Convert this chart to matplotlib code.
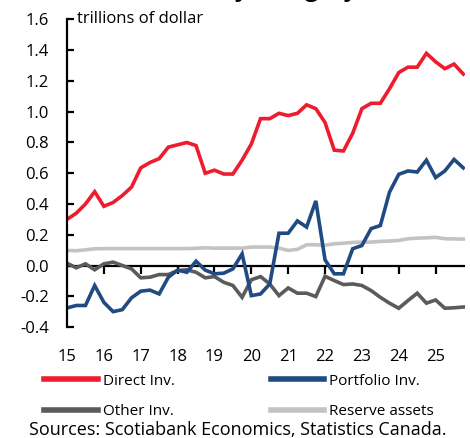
import numpy as np
import matplotlib
matplotlib.use("Agg")
import matplotlib.pyplot as plt

plt.rcParams["font.family"] = ["Open Sans", "DejaVu Sans"]
plt.rcParams["axes.unicode_minus"] = False

# Quarterly positions, 2015Q1 .. 2025Q4 (trillions of dollars)
first_year = 2015
n_quarters = 44
quarters = first_year + np.arange(n_quarters) / 4

direct_inv = [0.30, 0.34, 0.40, 0.48, 0.385, 0.41, 0.455, 0.51, 0.635, 0.67,
              0.695, 0.77, 0.785, 0.80, 0.78, 0.60, 0.62, 0.595, 0.595, 0.685,
              0.79, 0.955, 0.955, 0.99, 0.975, 0.99, 1.045, 1.02, 0.93, 0.75,
              0.745, 0.86, 1.02, 1.055, 1.055, 1.15, 1.255, 1.29, 1.29, 1.38,
              1.325, 1.28, 1.31, 1.245]

portfolio_inv = [-0.276, -0.26, -0.26, -0.13, -0.24, -0.30, -0.287, -0.21, -0.167, -0.16,
                 -0.185, -0.076, -0.03, -0.044, 0.028, -0.03, -0.054, -0.05, -0.022, 0.076,
                 -0.196, -0.185, -0.12, 0.21, 0.21, 0.29, 0.25, 0.42, 0.037, -0.054,
                 -0.054, 0.109, 0.13, 0.24, 0.26, 0.478, 0.593, 0.615, 0.608, 0.685,
                 0.572, 0.615, 0.69, 0.635]

other_inv = [0.015, -0.015, 0.011, -0.028, 0.011, 0.022, 0.0, -0.022, -0.08, -0.076,
             -0.059, -0.059, -0.033, -0.028, -0.044, -0.08, -0.072, -0.109, -0.13, -0.207,
             -0.093, -0.072, -0.12, -0.196, -0.146, -0.18, -0.18, -0.202, -0.07, -0.098,
             -0.124, -0.12, -0.13, -0.163, -0.207, -0.245, -0.278, -0.228, -0.18, -0.245,
             -0.224, -0.278, -0.275, -0.27]

reserve_assets = [0.098, 0.096, 0.102, 0.109, 0.11, 0.11, 0.11, 0.11, 0.11, 0.11,
                  0.11, 0.11, 0.11, 0.11, 0.112, 0.115, 0.113, 0.113, 0.113, 0.113,
                  0.12, 0.12, 0.12, 0.113, 0.098, 0.105, 0.135, 0.135, 0.132, 0.141,
                  0.145, 0.15, 0.152, 0.152, 0.157, 0.159, 0.163, 0.174, 0.178, 0.18,
                  0.183, 0.174, 0.173, 0.172]

series_labels = ["Direct Inv.", "Portfolio Inv.", "Other Inv.", "Reserve assets"]
series_colors = ["#ED1C2E", "#1F4B82", "#5B5B5B", "#C3C3C3"]

year_labels = ["15", "16", "17", "18", "19", "20", "21", "22", "23", "24", "25"]
y_ticks = [-0.4, -0.2, 0.0, 0.2, 0.4, 0.6, 0.8, 1.0, 1.2, 1.4, 1.6]

fig = plt.figure(figsize=(4.70, 4.38), dpi=100)
ax = fig.add_axes([0.1426, 0.2534, 0.847, 0.7021])

# Reserve first so the other lines sit on top of it
order = [3, 2, 1, 0]
all_series = [direct_inv, portfolio_inv, other_inv, reserve_assets]
handles = {}
for i in order:
    (h,) = ax.plot(quarters, all_series[i], color=series_colors[i], lw=2.6,
                   solid_joinstyle="miter", label=series_labels[i])
    handles[i] = h

ax.set_ylim(-0.4, 1.6)
ax.set_xlim(first_year, first_year + 10.8)

for side in ["top", "right", "bottom"]:
    ax.spines[side].set_visible(False)
ax.spines["left"].set_linewidth(1.6)
ax.spines["left"].set_color("black")

ax.set_yticks(y_ticks)
ax.set_yticklabels([f"{v:.1f}" for v in y_ticks])
ax.tick_params(axis="y", direction="in", length=5, width=1.6, pad=13,
               labelsize=12, colors="black")

years = [first_year + k for k in range(len(year_labels))]
ax.set_xticks(years)
ax.set_xticklabels(year_labels)
ax.tick_params(axis="x", length=0, pad=16, labelsize=12)

# zero line with downward year ticks
ax.axhline(0, color="black", lw=1.6, zorder=1)
zero_frac = (0 - (-0.4)) / (1.6 - (-0.4))
sec = ax.secondary_xaxis(zero_frac)
sec.spines["bottom"].set_visible(False)
sec.set_xticks(years[1:])
sec.tick_params(axis="x", direction="out", length=6, width=1.6, labelbottom=False)

ax.text(0.025, 1.6, "trillions of dollar", transform=ax.get_yaxis_transform(),
        ha="left", va="center", fontsize=12)

# legend filled column by column: rows read Direct/Portfolio, Other/Reserve
leg_idx = [0, 2, 1, 3]
leg = fig.legend([handles[i] for i in leg_idx], [series_labels[i] for i in leg_idx],
                 ncol=2, loc="center", bbox_to_anchor=(0.509, 0.095), frameon=False,
                 fontsize=11, handlelength=3.5, handletextpad=0.33,
                 columnspacing=6.3, labelspacing=1.0)
for line in leg.get_lines():
    line.set_linewidth(4)

fig.text(0.506, 0.018, "Sources: Scotiabank Economics, Statistics Canada.",
         ha="center", va="center", fontsize=13)

fig.text(0.76, 1 + 3.5 / 438, "International assets by category", ha="right",
         va="baseline", fontsize=17, fontweight="bold")

fig.savefig("out.png", dpi=100)
